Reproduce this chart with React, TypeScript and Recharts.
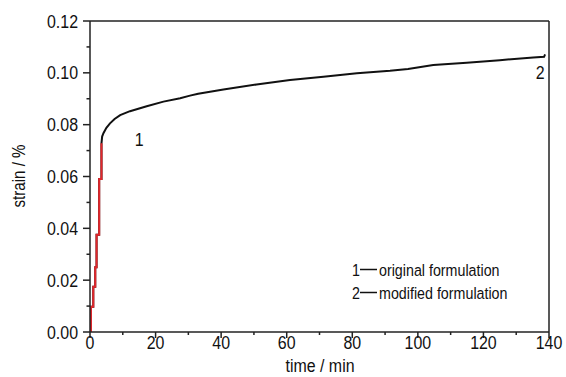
import React from 'react';
import { LineChart, Line, XAxis, YAxis, ReferenceLine, ReferenceDot } from 'recharts';

// curve 1 (red, original formulation) – early stepped rise
const origTime = [0, 0.3, 1.0, 1.6, 2.0, 2.8, 3.5];
const origStrain = [0, 0.0097, 0.0175, 0.025, 0.0375, 0.059, 0.0728];

// curve 2 (black, modified formulation)
const modTime = [0, 0.3, 0.3, 1.0, 1.0, 1.6, 1.6, 2.0, 2.0, 2.8, 2.8, 3.5, 3.5, 3.7, 4.1, 5.0, 6.1, 7.5, 9.2, 12.2, 17.3, 22.4, 27.5, 30.5, 33, 40.7, 50.8, 61, 71.2, 81.4, 91.5, 97, 104.7, 114.9, 125, 135.2, 138.5, 138.8];
const modStrain = [0, 0, 0.0097, 0.0097, 0.0175, 0.0175, 0.025, 0.025, 0.0375, 0.0375, 0.059, 0.059, 0.0728, 0.0754, 0.0767, 0.0788, 0.0805, 0.0822, 0.0837, 0.0852, 0.0871, 0.0889, 0.0902, 0.0912, 0.0919, 0.0936, 0.0955, 0.0972, 0.0985, 0.0998, 0.1008, 0.1015, 0.103, 0.1039, 0.1049, 0.1059, 0.1062, 0.1071];

const xTicks = [0, 10, 20, 30, 40, 50, 60, 70, 80, 90, 100, 110, 120, 130, 140];
const yTicks = [0, 0.01, 0.02, 0.03, 0.04, 0.05, 0.06, 0.07, 0.08, 0.09, 0.1, 0.11, 0.12];

const legendItems = ['original formulation', 'modified formulation'];
const curveLabels = [
  { id: '1', t: 15, v: 0.0745 },
  { id: '2', t: 137.3, v: 0.1003 },
];

const origData = origTime.map((t, i) => ({ t, v: origStrain[i] }));
const modData = modTime.map((t, i) => ({ t, v: modStrain[i] }));

const FONT = '"Liberation Sans", Arial, sans-serif';
const AXIS = '#222';
const SX = 0.84;

const NText = ({ x, y, size, anchor = 'start', rotate = 0, children }: any) => (
  <text
    x={0}
    y={0}
    transform={`translate(${x},${y}) rotate(${rotate}) scale(${SX},1)`}
    textAnchor={anchor}
    fontSize={size}
    fontFamily={FONT}
    fill="#111"
  >
    {children}
  </text>
);

const XTick = (props: any) => {
  const { x, y, payload } = props;
  const major = payload.value % 20 === 0;
  return (
    <g>
      <line x1={x} y1={y} x2={x} y2={y + (major ? 6 : 3)} stroke={AXIS} strokeWidth={1.5} />
      {major && (
        <NText x={x} y={y + 16.5} size={19} anchor="middle">
          {payload.value}
        </NText>
      )}
    </g>
  );
};

const YTick = (props: any) => {
  const { x, y, payload } = props;
  const major = Math.round(payload.value * 100) % 2 === 0;
  return (
    <g>
      <line x1={x} y1={y} x2={x - (major ? 7 : 3.5)} y2={y} stroke={AXIS} strokeWidth={1.5} />
      {major && (
        <NText x={x - 12} y={y + 6.5} size={19} anchor="end">
          {payload.value.toFixed(2)}
        </NText>
      )}
    </g>
  );
};

const CurveLabel = (props: any) => {
  const { viewBox, value } = props;
  if (!viewBox) return null;
  return (
    <NText x={viewBox.x} y={viewBox.y + 7} size={19} anchor="middle">
      {value}
    </NText>
  );
};

export default function App() {
  return (
    <div style={{ position: 'absolute', left: 0, top: 0, width: 566, height: 377, background: '#fff' }}>
      <LineChart width={566} height={377} margin={{ top: 21, right: 17, bottom: 0, left: 10 }}>
        <XAxis
          dataKey="t"
          type="number"
          domain={[0, 140]}
          ticks={xTicks}
          interval={0}
          tickSize={0}
          tickMargin={0}
          tick={<XTick />}
          height={45}
          axisLine={{ stroke: AXIS, strokeWidth: 1.5 }}
          allowDataOverflow
        />
        <YAxis
          dataKey="v"
          type="number"
          domain={[0, 0.12]}
          ticks={yTicks}
          interval={0}
          tickSize={0}
          tickMargin={0}
          tick={<YTick />}
          width={80}
          axisLine={{ stroke: AXIS, strokeWidth: 1.5 }}
          allowDataOverflow
        />
        <ReferenceLine y={0.12} stroke={AXIS} strokeWidth={1.5} />
        <ReferenceLine x={140} stroke={AXIS} strokeWidth={1.5} />
        <Line data={modData} dataKey="v" type="linear" stroke="#111" strokeWidth={2} dot={false} isAnimationActive={false} />
        <Line data={origData} dataKey="v" type="stepAfter" stroke="#e2262b" strokeWidth={2} dot={false} isAnimationActive={false} />
        {curveLabels.map((c) => (
          <ReferenceDot
            key={c.id}
            x={c.t}
            y={c.v}
            r={0}
            stroke="none"
            label={<CurveLabel value={c.id} />}
          />
        ))}
      </LineChart>
      <svg width={566} height={377} style={{ position: 'absolute', left: 0, top: 0, pointerEvents: 'none' }}>
        <NText x={320} y={372} size={19} anchor="middle">
          time / min
        </NText>
        <NText x={25} y={176} size={18} anchor="middle" rotate={-90}>
          strain / %
        </NText>
        {legendItems.map((s, i) => (
          <g key={s}>
            <NText x={352} y={276 + i * 23} size={17}>
              {i + 1}
            </NText>
            <line x1={360} y1={269.5 + i * 23} x2={377} y2={269.5 + i * 23} stroke="#111" strokeWidth={1.5} />
            <NText x={379} y={276 + i * 23} size={17}>
              {s}
            </NText>
          </g>
        ))}
      </svg>
    </div>
  );
}
